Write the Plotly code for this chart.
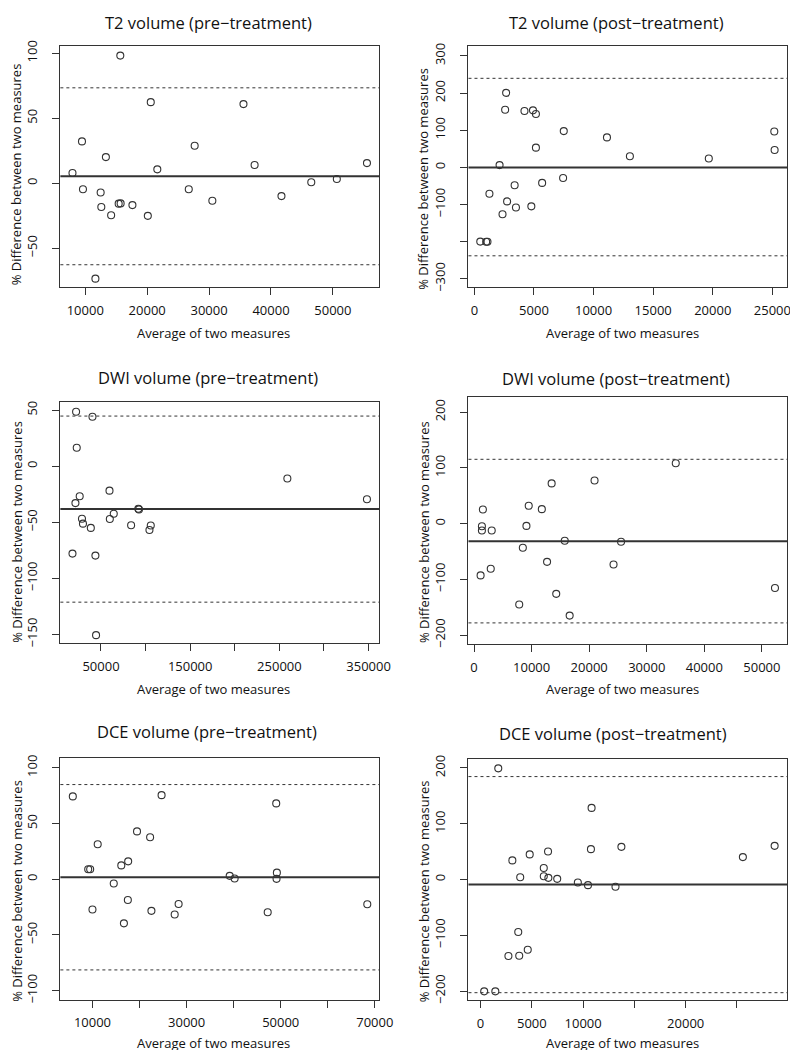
import plotly.graph_objects as go

W, H = 798, 1050

# ---------------- data ----------------
titles = ["T2 volume (pre\u2212treatment)", "T2 volume (post\u2212treatment)",
          "DWI volume (pre\u2212treatment)", "DWI volume (post\u2212treatment)",
          "DCE volume (pre\u2212treatment)", "DCE volume (post\u2212treatment)"]

t2_pre_avg = [7937, 9471, 9630, 15661, 13333, 12487, 12593, 14180, 15397, 15714, 17619,
              20582, 21640, 20106, 11640, 26720, 27672, 30529, 35556, 37354, 41693, 46508,
              50635, 55503]
t2_pre_diff = [7.9, 32.2, -4.6, 98.2, 20.1, -7.1, -18.3, -24.6, -15.7, -15.5, -16.8,
               62.4, 10.7, -25.1, -73.4, -4.6, 28.9, -13.5, 60.9, 14.0, -9.9, 0.8,
               3.3, 15.5]
t2_pre_lines = [5.3, 73.4, -62.7]  # mean, upper, lower

t2_post_avg = [494, 989, 1099, 1264, 2115, 2362, 2582, 2665, 2747, 3379, 3489, 4203,
               4780, 4917, 5165, 5165, 5686, 7444, 7500, 11125, 13048, 19669, 25163, 25190]
t2_post_diff = [-199.6, -200, -200, -71, 6.2, -126, 155, 200.5, -91.4, -47.9, -108, 151.7,
                -104.7, 153.5, 143.7, 53.2, -41.7, -28.4, 97.6, 80.7, 30.2, 24, 96.7, 47]
t2_post_lines = [0.0, 239.6, -237.8]

dwi_pre_avg = [22093, 40453, 22827, 26132, 21358, 28702, 29804, 38617, 18054, 43758,
               44492, 59547, 59914, 64321, 83782, 91861, 92595, 104346, 105814, 258937,
               348166]
dwi_pre_diff = [48.5, 44.1, 16.5, -26.8, -32.9, -46.8, -51.2, -55.0, -77.9, -79.7,
                -150.6, -21.8, -47.1, -42.4, -52.6, -37.9, -38.5, -56.8, -52.9, -10.9,
                -29.4]
dwi_pre_lines = [-38.2, 44.7, -121.2]

dwi_post_avg = [1536, 1365, 1365, 3072, 1138, 2901, 7849, 8475, 9101, 9499, 11774,
                12684, 13480, 14277, 15756, 16609, 20932, 24231, 25539, 35038, 52273]
dwi_post_diff = [25.4, -4.7, -12.4, -12.4, -92.9, -81, -145, -43.2, -4.1, 32, 26,
                 -68.6, 72.2, -126, -30.8, -165, 77.5, -73.4, -32.5, 108.3, -115.4]
dwi_post_lines = [-31.4, 115.4, -178.1]

dce_pre_avg = [5824, 9095, 9513, 10000, 11114, 14524, 16125, 16682, 17517, 17587,
               19466, 22250, 22528, 24686, 27470, 28305, 39162, 40206, 47236, 49046,
               49185, 49115, 68394]
dce_pre_diff = [74.3, 8.9, 8.9, -27.2, 31.4, -3.8, 12.4, -39.6, -18.6, 16, 42.9, 37.6,
                -28.4, 75.4, -31.7, -22.2, 3, 0.6, -29.6, 68, 5.9, 0.3, -22.5]
dce_pre_lines = [1.8, 84.9, -81.4]

dce_post_avg = [351, 1437, 1724, 2714, 3097, 3672, 3768, 3864, 4598, 4790, 6162, 6162,
                6577, 6610, 7472, 9483, 10473, 10760, 10824, 13155, 13730, 25576, 28673]
dce_post_diff = [-200.6, -200.6, 199.4, -137.3, 34.3, -94.1, -136.7, 4.1, -126, 45,
                 20.7, 5.9, 50.3, 3, 1.2, -5.3, -10.1, 54.4, 128.4, -13, 58.6, 40.2, 60.4]
dce_post_lines = [-8.9, 184.6, -203.0]

# tick values / labels
x_ticks = [
    ([10000, 20000, 30000, 40000, 50000], ["10000", "20000", "30000", "40000", "50000"]),
    ([0, 5000, 10000, 15000, 20000, 25000], ["0", "5000", "10000", "15000", "20000", "25000"]),
    ([50000, 100000, 150000, 200000, 250000, 300000, 350000],
     ["50000", "", "150000", "", "250000", "", "350000"]),
    ([0, 10000, 20000, 30000, 40000, 50000], ["0", "10000", "20000", "30000", "40000", "50000"]),
    ([10000, 20000, 30000, 40000, 50000, 60000, 70000],
     ["10000", "", "30000", "", "50000", "", "70000"]),
    ([0, 5000, 10000, 15000, 20000, 25000], ["0", "5000", "10000", "", "20000", ""]),
]
y_ticks = [
    ([-50, 0, 50, 100], ["\u221250", "0", "50", "100"]),
    ([-300, -200, -100, 0, 100, 200, 300], ["\u2212300", "", "\u2212100", "0", "100", "200", "300"]),
    ([-150, -100, -50, 0, 50], ["\u2212150", "\u2212100", "\u221250", "0", "50"]),
    ([-200, -100, 0, 100, 200], ["\u2212200", "\u2212100", "0", "100", "200"]),
    ([-100, -50, 0, 50, 100], ["\u2212100", "\u221250", "0", "50", "100"]),
    ([-200, -100, 0, 100, 200], ["\u2212200", "\u2212100", "0", "100", "200"]),
]
x_ranges = [[5979, 57460], [-494, 26236], [4467, 361760], [-967, 54377], [3179, 70900], [-1181, 29887]]
y_ranges = [[-79.9, 105.3], [-322, 325.6], [-157.9, 57.6], [-216, 227.8], [-108, 108.9], [-216.6, 215.4]]

series = [(t2_pre_avg, t2_pre_diff, t2_pre_lines), (t2_post_avg, t2_post_diff, t2_post_lines),
          (dwi_pre_avg, dwi_pre_diff, dwi_pre_lines), (dwi_post_avg, dwi_post_diff, dwi_post_lines),
          (dce_pre_avg, dce_pre_diff, dce_pre_lines), (dce_post_avg, dce_post_diff, dce_post_lines)]

# ---------------- layout geometry (pixels) ----------------
boxes = [  # x0, x1, ytop, ybottom
    (53.3, 377.7, 32.7, 276.0), (468.7, 793.0, 32.7, 276.0),
    (53.3, 377.7, 391.7, 636.0), (468.7, 793.0, 386.7, 636.7),
    (53.3, 377.7, 751.7, 996.0), (468.7, 793.0, 753.3, 996.7),
]
title_pos = [(204, 8.5), (619, 8.5), (204, 367.5), (619, 368.3), (203, 725), (616, 726.7)]
xlab_pos = [(209.5, 322.7), (625, 322.7), (209.5, 681.7), (625, 681.7), (209.5, 1040), (625, 1040)]
ylab_pos = [(8.5, 161.7), (423, 167), (8.5, 523), (423, 524), (8.5, 885.8), (423, 887)]

FONT = "Open Sans"
INK = "#111111"
LINE = "#333333"

fig = go.Figure()
layout = dict(width=W, height=H, margin=dict(l=0, r=0, t=0, b=0),
              paper_bgcolor="white", plot_bgcolor="white", showlegend=False,
              font=dict(family=FONT, color=INK, size=13))
shapes = []
annotations = []

for i, (xs, ys, lines) in enumerate(series):
    k = "" if i == 0 else str(i + 1)
    fig.add_trace(go.Scatter(
        x=xs, y=ys, mode="markers", xaxis="x" + k, yaxis="y" + k,
        marker=dict(symbol="circle-open", size=7, color=LINE, line=dict(width=1.1, color=LINE)),
        hoverinfo="x+y"))
    x0, x1, yt, yb = boxes[i]
    layout["xaxis" + k] = dict(
        domain=[x0 / W, x1 / W], anchor="y" + k, range=x_ranges[i],
        tickmode="array", tickvals=x_ticks[i][0], ticktext=x_ticks[i][1],
        ticks="outside", ticklen=7, tickwidth=1, tickcolor=LINE, ticklabelstandoff=4,
        showline=True, linecolor=LINE, linewidth=1, mirror=True,
        showgrid=False, zeroline=False, tickfont=dict(size=13, family=FONT, color=INK))
    layout["yaxis" + k] = dict(
        domain=[1 - yb / H, 1 - yt / H], anchor="x" + k, range=y_ranges[i],
        tickmode="array", tickvals=y_ticks[i][0], ticktext=y_ticks[i][1], tickangle=-90,
        ticks="outside", ticklen=7, tickwidth=1, tickcolor=LINE, ticklabelstandoff=10,
        showline=True, linecolor=LINE, linewidth=1, mirror=True,
        showgrid=False, zeroline=False, tickfont=dict(size=13, family=FONT, color=INK))
    xref_dom = ("x" + k) + " domain"
    mean, upper, lower = lines
    shapes.append(dict(type="line", xref=xref_dom, yref="y" + k, x0=0, x1=1, y0=mean, y1=mean,
                       line=dict(color=LINE, width=2)))
    for v in (upper, lower):
        shapes.append(dict(type="line", xref=xref_dom, yref="y" + k, x0=0, x1=1, y0=v, y1=v,
                           line=dict(color=LINE, width=1, dash="3px,3px")))
    tx, ty = title_pos[i]
    annotations.append(dict(text=titles[i], x=tx / W, y=1 - ty / H, xref="paper", yref="paper",
                            xanchor="center", yanchor="middle", showarrow=False,
                            font=dict(size=16.5, family=FONT, color=INK)))
    lx, ly = xlab_pos[i]
    annotations.append(dict(text="Average of two measures", x=lx / W, y=1 - ly / H,
                            xref="paper", yref="paper", xanchor="center", yanchor="middle",
                            showarrow=False, font=dict(size=13, family=FONT, color=INK)))
    yx, yy = ylab_pos[i]
    annotations.append(dict(text="% Difference between two measures", x=yx / W, y=1 - yy / H,
                            xref="paper", yref="paper", xanchor="center", yanchor="middle",
                            textangle=-90, showarrow=False,
                            font=dict(size=13, family=FONT, color=INK)))

layout["shapes"] = shapes
layout["annotations"] = annotations
fig.update_layout(**layout)
fig.write_html("out.html")
